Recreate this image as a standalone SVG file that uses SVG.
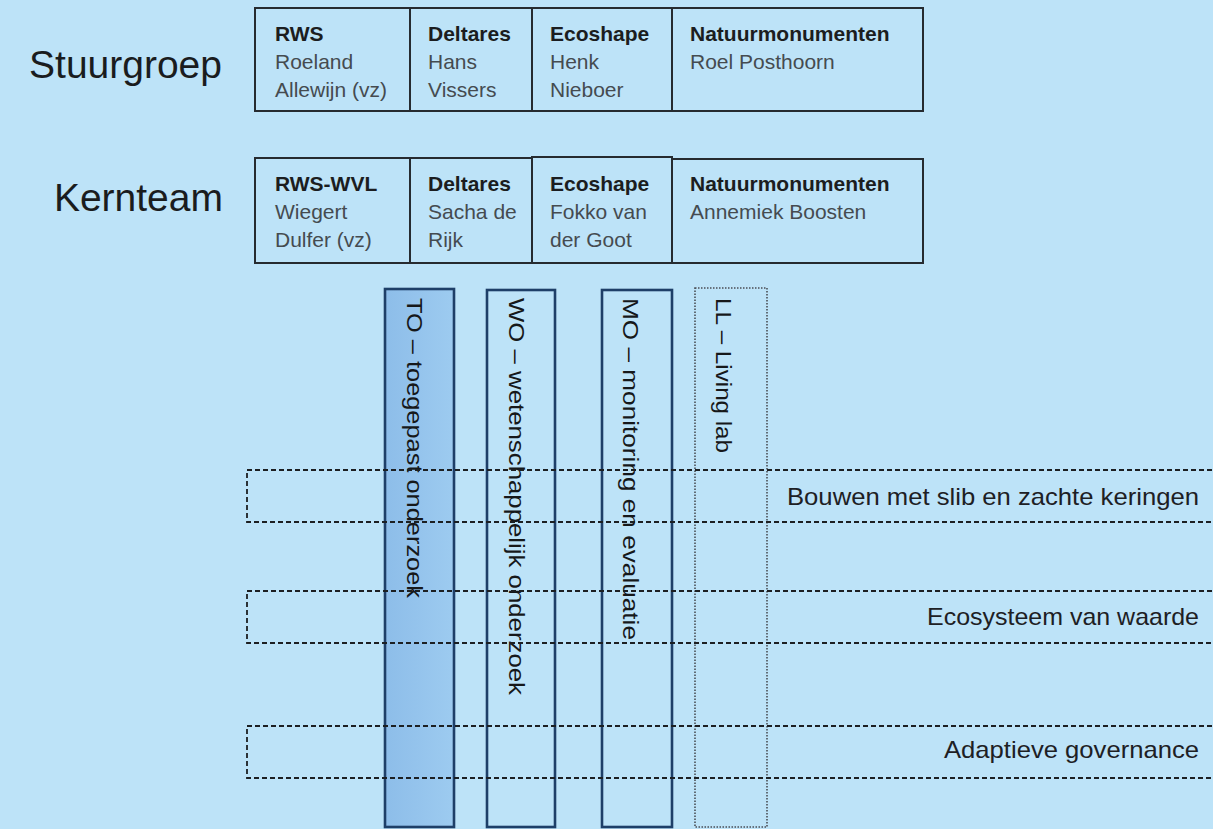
<svg xmlns="http://www.w3.org/2000/svg" width="1213" height="829" viewBox="0 0 1213 829">
<style>
.bg{fill:#bde3f8}
.cell{fill:none;stroke:#262b30;stroke-width:2}
.hd{font-family:"Liberation Sans",Arial,sans-serif;font-size:21px;font-weight:bold;fill:#1b1d20}
.nm{font-family:"Liberation Sans",Arial,sans-serif;font-size:21px;fill:#454b50}
.big{font-family:"Liberation Sans",Arial,sans-serif;font-size:39px;fill:#1a1c1e}
.col{stroke:#1e3f68;stroke-width:2.6}
.vt{font-family:"Liberation Sans",Arial,sans-serif;font-size:22px;fill:#16181a}
.row{fill:none;stroke:#1c1f22;stroke-width:1.8;stroke-dasharray:5 3}
.rt{font-family:"Liberation Sans",Arial,sans-serif;font-size:24px;fill:#1d2024;text-anchor:end}
</style>
<defs>
<linearGradient id="toFill" x1="0" y1="0" x2="1" y2="0">
<stop offset="0" stop-color="#8dbde9"/>
<stop offset="1" stop-color="#9dcbf0"/>
</linearGradient>
</defs>
<rect class="bg" x="0" y="0" width="1213" height="829"/>

<g id="stuurgroep">
<text class="big" x="222" y="78" text-anchor="end">Stuurgroep</text>
<rect class="cell" x="255" y="8" width="155" height="103"/>
<rect class="cell" x="410" y="8" width="122" height="103"/>
<rect class="cell" x="532" y="8" width="140" height="103"/>
<rect class="cell" x="672" y="8" width="251" height="103"/>
<text class="hd" x="275" y="41">RWS</text>
<text class="nm" x="275" y="69">Roeland</text>
<text class="nm" x="275" y="97">Allewijn (vz)</text>
<text class="hd" x="428" y="41">Deltares</text>
<text class="nm" x="428" y="69">Hans</text>
<text class="nm" x="428" y="97">Vissers</text>
<text class="hd" x="550" y="41">Ecoshape</text>
<text class="nm" x="550" y="69">Henk</text>
<text class="nm" x="550" y="97">Nieboer</text>
<text class="hd" x="690" y="41">Natuurmonumenten</text>
<text class="nm" x="690" y="69">Roel Posthoorn</text>
</g>

<g id="kernteam">
<text class="big" x="223" y="211" text-anchor="end">Kernteam</text>
<rect class="cell" x="255" y="158" width="155" height="105"/>
<rect class="cell" x="410" y="158" width="122" height="105"/>
<rect class="cell" x="532" y="157" width="140" height="106"/>
<rect class="cell" x="672" y="159" width="251" height="104"/>
<text class="hd" x="275" y="191">RWS-WVL</text>
<text class="nm" x="275" y="219">Wiegert</text>
<text class="nm" x="275" y="247">Dulfer (vz)</text>
<text class="hd" x="428" y="191">Deltares</text>
<text class="nm" x="428" y="219">Sacha de</text>
<text class="nm" x="428" y="247">Rijk</text>
<text class="hd" x="550" y="191">Ecoshape</text>
<text class="nm" x="550" y="219">Fokko van</text>
<text class="nm" x="550" y="247">der Goot</text>
<text class="hd" x="690" y="191">Natuurmonumenten</text>
<text class="nm" x="690" y="219">Annemiek Boosten</text>
</g>

<g id="col-TO">
<rect class="col" x="385" y="289" width="69" height="538" fill="url(#toFill)"/>
<text class="vt" transform="translate(407,298) rotate(90)" textLength="300" lengthAdjust="spacingAndGlyphs">TO – toegepast onderzoek</text>
</g>
<g id="col-WO">
<rect class="col" x="487" y="290" width="68" height="537" fill="none"/>
<text class="vt" transform="translate(509,298) rotate(90)" textLength="397" lengthAdjust="spacingAndGlyphs">WO – wetenschappelijk onderzoek</text>
</g>
<g id="col-MO">
<rect class="col" x="602" y="290" width="70" height="537" fill="none"/>
<text class="vt" transform="translate(623,298) rotate(90)" textLength="342" lengthAdjust="spacingAndGlyphs">MO – monitoring en evaluatie</text>
</g>
<g id="col-LL">
<rect x="695" y="288" width="72" height="539" fill="none" stroke="#4a4f55" stroke-width="1.6" stroke-dasharray="1.5 1.5"/>
<text class="vt" transform="translate(716,298) rotate(90)" textLength="155" lengthAdjust="spacingAndGlyphs">LL – Living lab</text>
</g>

<g id="connectors">
<path class="row" d="M1220,470 H247 V522 H1220"/>
<path class="row" d="M1220,591 H247 V643 H1220"/>
<path class="row" d="M1220,726 H247 V778 H1220"/>
</g>

<g id="row-labels">
<text class="rt" x="1199" y="505" textLength="412" lengthAdjust="spacingAndGlyphs">Bouwen met slib en zachte keringen</text>
<text class="rt" x="1199" y="625" textLength="272" lengthAdjust="spacingAndGlyphs">Ecosysteem van waarde</text>
<text class="rt" x="1199" y="758" textLength="255" lengthAdjust="spacingAndGlyphs">Adaptieve governance</text>
</g>
</svg>
